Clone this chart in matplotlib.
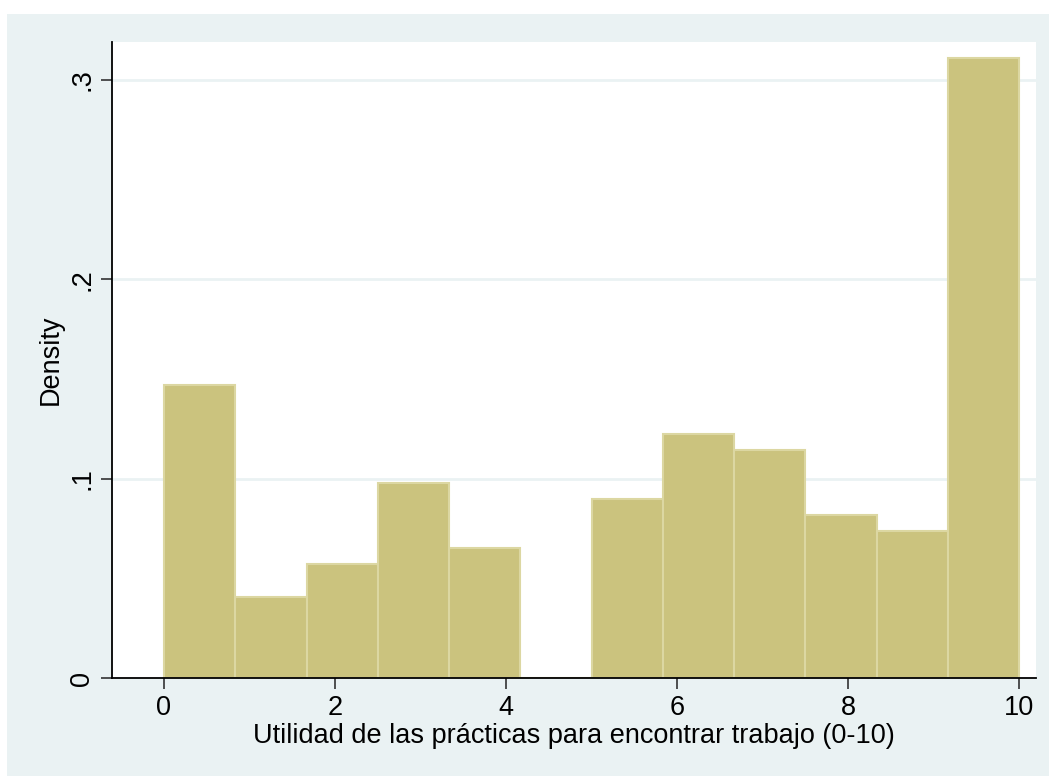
import numpy as np
import matplotlib.pyplot as plt
from matplotlib.patches import Rectangle

# Histogram data (density per bin), 12 equal-width bins over 0-10
bin_edges = np.linspace(0, 10, 13)
densities = [0.147, 0.0408, 0.0572, 0.098, 0.0651, 0.0,
             0.0898, 0.1226, 0.1144, 0.0816, 0.0738, 0.3108]
x_ticks = [0, 2, 4, 6, 8, 10]
y_ticks = [0, 0.1, 0.2, 0.3]
y_tick_labels = ["0", ".1", ".2", ".3"]

bg_color = "#EAF2F3"
bar_color = "#CBC37E"
bar_edge = "#DCD7A2"

plt.rcParams['font.family'] = ['Liberation Sans', 'DejaVu Sans']

fig = plt.figure(figsize=(10.49, 7.76), dpi=100)
fig.patch.set_facecolor("white")
# light outer region (Stata style graph region)
fig.patches.append(Rectangle((7 / 1049, 0), 1 - 7 / 1049, 1 - 14 / 776,
                             transform=fig.transFigure, facecolor=bg_color,
                             edgecolor="none", zorder=-10))

ax = fig.add_axes([112 / 1049, 98 / 776, 924 / 1049, 636 / 776])
ax.set_facecolor("white")

ax.bar(bin_edges[:-1], densities, width=np.diff(bin_edges), align='edge',
       color=bar_color, edgecolor=bar_edge, linewidth=1.5, zorder=3)

ax.set_xlim(-0.608, 10.197)
ax.set_ylim(0, 0.319)

# horizontal grid lines
for yv in y_ticks[1:]:
    ax.axhline(yv, color=bg_color, linewidth=2, zorder=1)

ax.set_xticks(x_ticks)
ax.set_xticklabels([str(v) for v in x_ticks])
ax.set_yticks(y_ticks)
ax.set_yticklabels(y_tick_labels, rotation=90, va='center')

ax.tick_params(axis='both', direction='out', length=8, width=1.2,
               labelsize=19.5, color='#333333')
ax.tick_params(axis='x', pad=4)
ax.tick_params(axis='y', pad=4)

for side in ['top', 'right']:
    ax.spines[side].set_visible(False)
for side in ['left', 'bottom']:
    ax.spines[side].set_linewidth(1.3)
    ax.spines[side].set_color('black')
    ax.spines[side].set_zorder(5)

ax.set_xlabel("Utilidad de las prácticas para encontrar trabajo (0-10)",
              fontsize=19.5, labelpad=2)
ax.set_ylabel("Density", fontsize=19.5, labelpad=4)

fig.savefig("out.png", dpi=100, facecolor=fig.get_facecolor())
